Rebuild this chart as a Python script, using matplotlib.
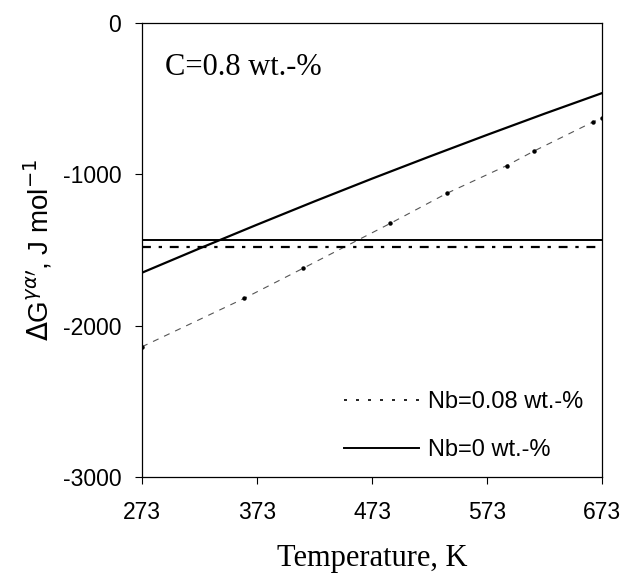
import matplotlib
matplotlib.use("Agg")
import matplotlib.pyplot as plt
from matplotlib.lines import Line2D

plt.rcParams['axes.unicode_minus'] = False
plt.rcParams['font.family'] = ['Liberation Sans', 'DejaVu Sans']

# Nb=0 wt.-% curve
temp_nb0 = [273, 323, 373, 423, 473, 523, 573, 623, 673]
dg_nb0 = [-1651, -1491, -1334, -1180, -1030, -884, -741, -601, -465]

# Nb=0.08 wt.-% curve (data points at irregular temperatures)
temp_nb008 = [273, 362, 413, 489, 538, 590, 614, 665, 673]
dg_nb008 = [-2140, -1820, -1622, -1325, -1127, -944, -847, -656, -630]

# horizontal reference levels
level_nb0 = -1435
level_nb008 = -1483

xticks = [273, 373, 473, 573, 673]
yticks = [0, -1000, -2000, -3000]

fig = plt.figure(figsize=(6.26, 5.81), dpi=100)
ax = fig.add_axes([0.2268, 0.179, 0.735, 0.782])

ax.plot(temp_nb0, dg_nb0, color='black', lw=1.6)
ax.plot(temp_nb008, dg_nb008, color='#555555', lw=0.8, dashes=(5.5, 5.5),
        marker='o', markersize=2.2, markerfacecolor='black', markeredgecolor='black')
ax.axhline(level_nb0, color='black', lw=1.4)
ax.axhline(level_nb008, color='black', lw=1.6, dashes=(4, 3.5, 1.5, 3.5))

ax.set_xlim(273, 673)
ax.set_ylim(-3000, 0)
ax.set_xticks(xticks)
ax.set_yticks(yticks)
ax.tick_params(direction='out', length=5, width=0.8, labelsize=16.5)
ax.tick_params(axis='x', pad=12)
ax.tick_params(axis='y', pad=10)

for s in ax.spines.values():
    s.set_linewidth(0.9)

ax.text(0.05, 0.884, 'C=0.8 wt.-%', transform=ax.transAxes,
        fontfamily='Liberation Serif', fontsize=22, va='baseline')

ax.set_xlabel('Temperature, K', fontfamily='Liberation Serif', fontsize=22, labelpad=15)
ax.set_ylabel(r'$\Delta$G$^{\gamma\alpha\prime}$, J mol$^{-1}$', fontsize=20, labelpad=6)

handles = [Line2D([], [], color='black', lw=1.2, dashes=(1.8, 5.4)),
           Line2D([], [], color='black', lw=1.4)]
ax.legend(handles, ['Nb=0.08 wt.-%', 'Nb=0 wt.-%'], loc='center',
          frameon=False, fontsize=17, handlelength=3.2, handletextpad=0.38,
          labelspacing=1.1, bbox_to_anchor=(0.699, 0.112))

fig.savefig('out.png', dpi=100)
